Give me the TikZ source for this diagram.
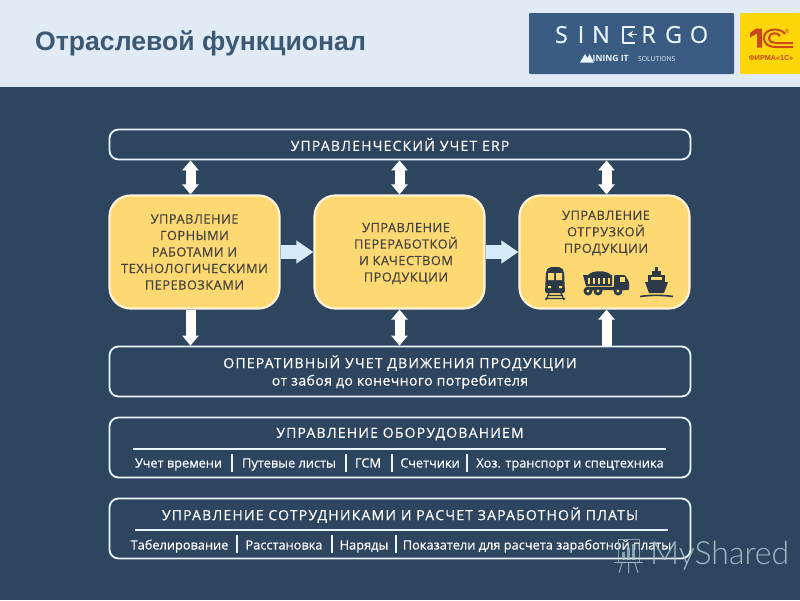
\documentclass[tikz,border=0pt]{standalone}
\usepackage{fontspec}
\setmainfont{Open Sans}
\newfontfamily\titlefont{Liberation Sans}
\newfontfamily\capfont[LetterSpace=4,FakeBold=0.5]{Open Sans}
\newfontfamily\headfont[LetterSpace=8.5,FakeBold=0.3]{Open Sans}
\newfontfamily\subfont[FakeBold=0.3]{Open Sans}
\newfontfamily\spreadfont[LetterSpace=3,FakeBold=0.3]{Open Sans}
\newfontfamily\logofont[FakeBold=0.4]{Open Sans}
\newfontfamily\markfont{Lato Light}
\usetikzlibrary{arrows.meta}
\definecolor{bgdark}{HTML}{2E4560}
\definecolor{bghead}{HTML}{E1EBF6}
\definecolor{logoblue}{HTML}{3A5B82}
\definecolor{titleblue}{HTML}{3B5875}
\definecolor{boxline}{HTML}{E8F5FB}
\definecolor{boxedge}{HTML}{FFF4D6}
\definecolor{boxfill}{HTML}{FDD873}
\definecolor{inkdark}{HTML}{45443C}
\definecolor{icondark}{HTML}{2C3A47}
\definecolor{arrowblue}{HTML}{D6ECFA}
\definecolor{firmyellow}{HTML}{FFD60A}
\definecolor{firmred}{HTML}{C9481B}
\definecolor{markgrey}{HTML}{A7C5CC}
\tikzset{
	wide/.style={draw=boxline, line width=1.8pt, rounded corners=9pt, minimum width=581pt, text=white, align=center, inner sep=0pt},
	stage/.style={draw=boxedge, line width=2.2pt, fill=boxfill, rounded corners=21pt, minimum width=170pt, minimum height=113pt, text=inkdark, align=center, inner sep=0pt, font=\capfont\fontsize{12.8}{16.5}\selectfont},
	capline/.style={text=white, inner sep=0pt, font=\headfont\fontsize{14}{16}\selectfont},
	subline/.style={text=white, inner sep=0pt, text height=10pt, text depth=3pt, font=\subfont\fontsize{12.8}{15}\selectfont},
	rulewhite/.style={draw=boxline, line width=1.6pt},
	sepwhite/.style={draw=boxline, line width=2pt},
	updown/.style={draw=white, line width=10pt, {Triangle[width=16pt,length=10pt]}-{Triangle[width=16pt,length=10pt]}},
	onedir/.style={draw=white, line width=10pt, -{Triangle[width=16pt,length=10pt]}},
	sideways/.style={draw=arrowblue, line width=14pt, -{Triangle[width=22pt,length=17pt]}},
}
\begin{document}
\begin{tikzpicture}[x=1pt, y=-1pt, line join=round]
	\useasboundingbox (0,0) rectangle (800,600);
	\fill[bgdark] (0,0) rectangle (800,600);
	\fill[bghead] (0,0) rectangle (800,87);
	\node[text=titleblue, font=\titlefont\bfseries\fontsize{26.6}{30}\selectfont, inner sep=0pt, anchor=west] (title) at (35,43) {Отраслевой функционал};

	% логотипы
	\fill[logoblue, rounded corners=1pt] (529,13) rectangle (734,74);
	\fill[firmyellow, rounded corners=1pt] (740,13) rectangle (800,74);
	\foreach \name/\x/\letter in {s/561.5/S, i/581/I, n/601/N, r/648.5/R, g/673.5/G, o/699/O}
		\node[text=boxline, inner sep=0pt, font=\logofont\fontsize{23.5}{26}\selectfont] (logo\name) at (\x,34.5) {\letter};
	\draw[boxline, line width=2pt] (635,27)--(623,27)--(623,42.5)--(635,42.5);
	\draw[boxline, line width=1.6pt, -{Stealth[length=6pt,width=7pt]}] (637,34.5)--(627,34.5);
	\fill[boxline] (580,62.5)--(585,54)--(587.5,58)--(589.5,54)--(594,62.5)--cycle;
	\node[text=boxline, inner sep=0pt, font=\bfseries\fontsize{8.6}{9}\selectfont, anchor=base west] (mining) at (592.5,61.5) {INING IT};
	\node[text=boxline, inner sep=0pt, font=\fontsize{6.8}{8}\selectfont, anchor=base west] (solutions) at (638,61.5) {SOLUTIONS};
	\fill[firmred] (750,33)--(756,28.5)--(762,28.5)--(762,47.5)--(757,47.5)--(757,33.5)--(750,37.5)--cycle;
	\draw[firmred, line width=2pt] (785,34)..controls (782,28) and (764,27)..(764,38)..controls (764,45) and (770,47)..(776,47)--(793,47);
	\draw[firmred, line width=2pt] (780,36)..controls (778,32) and (769,32)..(769,38)..controls (769,42) and (773,43)..(776,43)--(793,43);
	\node[text=firmred, inner sep=0pt, font=\titlefont\fontsize{6}{7}\selectfont] (regmark) at (787,31) {®};
	\node[text=firmred, inner sep=0pt, font=\titlefont\bfseries\fontsize{7.2}{8}\selectfont] (firm) at (771,58) {ФИРМА«1С»};

	% блоки
	\node[wide, minimum height=30pt] (erp) at (400,144.5) {};
	\node[capline] (erptext) at (400,144.5) {УПРАВЛЕНЧЕСКИЙ УЧЕТ ERP};
	\node[stage] (mine) at (194.5,252) {УПРАВЛЕНИЕ\\ГОРНЫМИ\\РАБОТАМИ И\\ТЕХНОЛОГИЧЕСКИМИ\\ПЕРЕВОЗКАМИ};
	\node[stage, text opacity=0] (plant) at (399.5,252) {};
	\node[text=inkdark, align=center, inner sep=0pt, font=\capfont\fontsize{12.8}{16.5}\selectfont] (planttext) at (406,253.5) {УПРАВЛЕНИЕ\\ПЕРЕРАБОТКОЙ\\И КАЧЕСТВОМ\\ПРОДУКЦИИ};
	\node[stage] (ship) at (604.5,252) {};
	\node[text=inkdark, align=center, inner sep=0pt, font=\capfont\fontsize{12.8}{16.5}\selectfont] (shiptext) at (606,233) {УПРАВЛЕНИЕ\\ОТГРУЗКОЙ\\ПРОДУКЦИИ};
	\node[wide, minimum height=50pt] (oper) at (400,371.5) {};
	\node[capline] (opertext) at (400,363) {ОПЕРАТИВНЫЙ УЧЕТ ДВИЖЕНИЯ ПРОДУКЦИИ};
	\node[subline, font=\spreadfont\fontsize{14}{16}\selectfont] (opersub) at (400,382) {от забоя до конечного потребителя};
	\node[wide, minimum height=60pt] (equip) at (400,447.5) {};
	\node[capline] (equiptext) at (400,434) {УПРАВЛЕНИЕ ОБОРУДОВАНИЕМ};
	\node[wide, minimum height=60pt] (staff) at (400,528.5) {};
	\node[capline] (stafftext) at (400,515) {УПРАВЛЕНИЕ СОТРУДНИКАМИ И РАСЧЕТ ЗАРАБОТНОЙ ПЛАТЫ};

	% стрелки
	\draw[updown] ([xshift=-4pt]mine.north|-erp.south)--([xshift=-4pt]mine.north);
	\draw[updown] (plant.north|-erp.south)--(plant.north);
	\draw[updown] ([xshift=2pt]ship.north|-erp.south)--([xshift=2pt]ship.north);
	\draw[onedir] ([xshift=-4pt]mine.south)--([xshift=-4pt]mine.south|-oper.north);
	\draw[updown] (plant.south)--(plant.south|-oper.north);
	\draw[onedir] ([xshift=2pt]ship.south|-oper.north)--([xshift=2pt]ship.south);
	\draw[sideways] (mine.east)--(plant.west);
	\draw[sideways] (plant.east)--(ship.west);

	% оборудование
	\coordinate (eqa) at (133,449);
	\coordinate (eqb) at (666,449);
	\draw[rulewhite] (eqa)--(eqb);
	\foreach \name/\x/\label in {a/178.5/Учет времени, b/289/Путевые листы, c/368/ГСМ, d/430/Счетчики, e/570/Хоз. транспорт и спецтехника}
		\node[subline] (eq\name) at (\x,464) {\label};
	\foreach \x in {232,345.5,392,467}
		\draw[sepwhite] (\x,454)--(\x,472);

	% сотрудники
	\coordinate (sta) at (135,530);
	\coordinate (stb) at (668,530);
	\draw[rulewhite] (sta)--(stb);
	\foreach \name/\x/\label in {a/179.5/Табелирование, b/284/Расстановка, c/364/Наряды, d/537/Показатели для расчета заработной платы}
		\node[subline] (st\name) at (\x,546) {\label};
	\foreach \x in {237,332,396}
		\draw[sepwhite] (\x,535)--(\x,553);

	% поезд
	\begin{scope}[icondark]
		\fill[rounded corners=2pt] (546,271)--(549,267)--(561,267)--(564,271)--(565,293)--(545,293)--cycle;
		\fill[boxfill] (548,273) rectangle (554,280) (556,273) rectangle (562,280);
		\fill[boxfill] (548,286) rectangle (551,288) (559,286) rectangle (562,288);
		\draw[line width=1.2pt] (549,293)--(546,300) (561,293)--(564,300) (547,295.5)--(563,295.5) (545,298.5)--(565,298.5);
	\end{scope}

	% самосвал
	\begin{scope}[icondark]
		\fill (583,275)--(612,275)--(612,286)--(586,286)--cycle;
		\fill (588,275) .. controls (592,270) and (607,270) .. (611,275);
		\fill[rounded corners=1pt] (614,275)--(625,275)--(629,282)--(629,290)--(586,290)--(586,287)--(614,287)--cycle;
		\fill[boxfill] (620,277) rectangle (625,282);
		\foreach \x in {588,598,618}{
			\fill (\x,291) circle (4.5pt);
			\fill[boxfill] (\x,291) circle (1.6pt);
		}
		\foreach \x in {588,593,598,603,608}
			\fill[boxfill] (\x,277.5) rectangle (\x+1.6,283.5);
	\end{scope}

	% судно
	\begin{scope}[icondark]
		\fill (645,282)--(668,282)--(664,293)--(649,293)--cycle;
		\fill (648,282) rectangle (665,275);
		\fill (652,275) rectangle (661,270.5);
		\fill (655,270.5) rectangle (658,267);
		\fill[boxfill] (651,277) rectangle (662,279.5);
		\draw[line width=1.6pt] (640,296.5)..controls (650,295) and (663,295)..(673,296.5);
	\end{scope}

	% MyShared
	\begin{scope}[draw=markgrey, opacity=0.75, line width=1pt]
		\draw (618,539) rectangle (639,562);
		\draw (614,562)--(643,562);
		\draw (622,563)--(619,573) (628.5,563)--(628.5,573) (635,563)--(638,573);
		\foreach \x/\h in {622/8,627/12,632/16}
			\fill[markgrey] (\x,560) rectangle (\x+3,560-\h);
	\end{scope}
	\node[text=markgrey, opacity=0.9, inner sep=0pt, font=\markfont\fontsize{32}{34}\selectfont, anchor=west] (shared) at (650,556) {MyShared};
\end{tikzpicture}
\end{document}
